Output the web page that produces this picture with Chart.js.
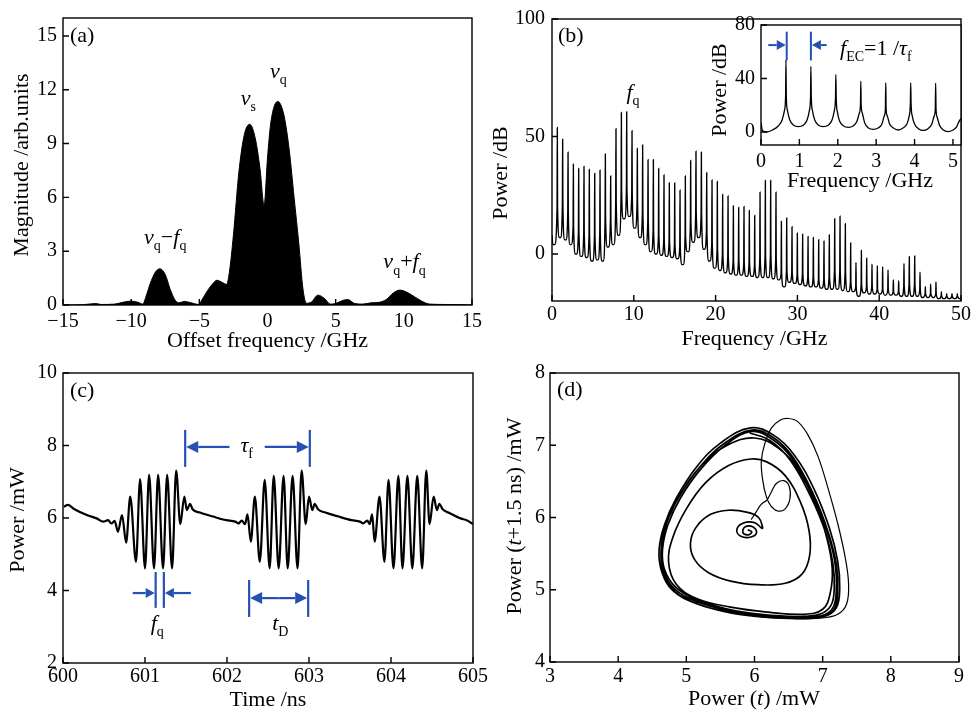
<!DOCTYPE html>
<html>
<head>
<meta charset="utf-8">
<script src="https://cdn.jsdelivr.net/npm/chart.js@4.4.1/dist/chart.umd.min.js"></script>
<style>
  body { margin: 0; background: #fff; }
  #wrap { position: relative; width: 973px; height: 714px; }
  canvas { position: absolute; left: 0; top: 0; }
</style>
</head>
<body>
<div id="wrap">
  <canvas id="cA" width="973" height="714"></canvas>
  <canvas id="cB" width="973" height="714"></canvas>
  <canvas id="cI" width="973" height="714"></canvas>
  <canvas id="cC" width="973" height="714"></canvas>
  <canvas id="cD" width="973" height="714"></canvas>
</div>
<script>
// ---------- data ----------

// (a) optical spectrum, offset frequency (GHz) / magnitude
var magPts = [[-15,0],[-13.5,0.02],[-12.6,0.08],[-12.2,0.03],[-11.2,0.05],[-10.6,0.15],[-10.0,0.22],[-9.5,0.15],
  [-9.15,0.05],[-8.9,0.5],[-8.6,1.2],[-8.25,1.8],[-7.9,2.02],[-7.5,1.7],[-7.15,0.9],[-6.8,0.3],[-6.5,0.12],
  [-6.1,0.2],[-5.6,0.12],[-5.05,0.03],[-4.8,0.3],[-4.4,0.8],[-4.0,1.2],[-3.7,1.38],[-3.3,1.25],[-3.0,1.15],
  [-2.8,1.8],[-2.5,3.9],[-2.1,7.4],[-1.7,9.5],[-1.3,10.07],[-0.9,9.3],[-0.55,7.6],[-0.25,5.55],[0.0,8.2],
  [0.25,10.2],[0.75,11.35],[1.2,10.6],[1.6,8.6],[1.95,6.0],[2.3,3.4],[2.6,0.9],[2.85,0.1],[3.2,0.15],
  [3.7,0.55],[4.2,0.35],[4.6,0.05],[5.0,0.08],[5.5,0.25],[5.9,0.3],[6.4,0.08],[7.0,0.05],[7.6,0.12],
  [8.2,0.15],[8.7,0.3],[9.2,0.65],[9.7,0.83],[10.2,0.72],[10.8,0.45],[11.4,0.18],[11.9,0.05],[13,0.03],
  [14.4,0.02],[15,0]];
var aTicksX = [-15, -10, -5, 0, 5, 10, 15];
var aTicksY = [0, 3, 6, 9, 12, 15];

// (b) RF spectrum: external-cavity comb lines (GHz), spike tops, pedestals, troughs (dB)
var combFreq = [0.65,1.30,1.96,2.61,3.26,3.91,4.56,5.22,5.87,6.52,7.17,7.82,8.48,9.13,9.78,10.43,11.08,11.74,
  12.39,13.04,13.69,14.34,15.00,15.65,16.30,16.95,17.60,18.26,18.91,19.56,20.21,20.86,21.52,22.17,22.82,23.47,
  24.12,24.78,25.43,26.08,26.73,27.38,28.04,28.69,29.34,29.99,30.64,31.30,31.95,32.60,33.25,33.90,34.56,35.21,
  35.86,36.51,37.16,37.82,38.47,39.12,39.77,40.42,41.08,41.73,42.38,43.03,43.68,44.34,44.99,45.64,46.29,46.94,
  47.60,48.25,48.90,49.55];
var combPeak = [53.8,48.8,43.3,38.2,36.4,37.3,36,34.3,35.7,42.6,33.2,53.3,60.2,60.5,52.5,44.9,46.4,40.1,
  40.1,36.4,33.6,30.2,30.2,27.1,33.2,39.8,43.7,43.3,34.6,31.5,30.9,25.3,24.7,20.5,19.8,20.2,
  18.5,16.4,26.3,31.3,31.3,26.3,13.9,15.3,11.6,8.8,8.4,7.4,7.0,6.1,5.5,8.1,15.0,16.1,
  12.9,4.7,-3.6,1.5,-1.8,-4.3,-5.0,-5.4,-6.8,-10.9,-11.4,-4.0,-1.2,-0.8,-7.7,-13.9,-12.8,-11.9,
  -16,-16.9,-16.9,-16.9];
var combPed = [20,21,18,12,10,9,8,8,9,16,14,22,27,28,26,22,18,14,
  10,8,6,5,4,3,8,14,18,17,10,5,2,0,-1,-3,-3,-4,
  -4,-5,-2,0,0,-2,-8,-7,-8,-9,-9,-10,-10,-11,-11,-10,-7,-7,
  -8,-12,-14,-13,-14,-14,-15,-15,-15,-16,-16,-14,-13,-13,-15,-17,-17,-17,
  -18,-18,-18,-18];
var combTrough = [4,7,6,4,0,-1,-1.5,-3,-2.5,-3,3,4,8,15,16,11,7,4,1,0,-0.5,-1,-1.5,-2,-4.5,1,5,7,2,-3,-6,
  -7,-8,-8.5,-9,-9,-9.5,-9.5,-10,-10,-10,-10.5,-11,-14,-12,-12.5,-13,-13.5,-14,-14,-14.5,-15,-15,-15,
  -15.5,-16,-16,-18,-16.5,-17,-17,-17,-17.5,-17.5,-17.5,-18,-18,-18,-18,-18.5,-18.5,-18.5,-19,-19,-19,
  -19,-19];
var bTicksX = [0, 10, 20, 30, 40, 50];
var bTicksY = [0, 50, 100];

// (b) inset, 0-5.2 GHz
var insetPts = [[0,7],[0.04,1],[0.15,0],[0.30,1.5],[0.45,4.5],[0.55,9],[0.61,16],[0.64,26],[0.65,54],[0.66,26],
  [0.69,16],[0.75,9],[0.85,5],[0.975,4],[1.10,5],[1.20,9],[1.26,16],[1.29,26],[1.30,49],[1.31,26],[1.34,16],
  [1.40,9],[1.50,5],[1.625,4],[1.75,5],[1.85,9],[1.91,16],[1.94,25],[1.95,43],[1.96,25],[1.99,15],[2.05,8],
  [2.15,4.5],[2.275,3.5],[2.40,4.5],[2.50,8],[2.56,14],[2.59,20],[2.60,38],[2.61,20],[2.64,14],[2.70,7],
  [2.80,3],[2.925,2],[3.05,3],[3.15,6],[3.21,12],[3.24,17],[3.25,37],[3.26,17],[3.29,12],[3.35,6],[3.45,3],
  [3.575,1.5],[3.70,3],[3.80,6],[3.86,12],[3.89,21],[3.90,37],[3.91,21],[3.94,12],[4.00,6],[4.10,2.5],
  [4.225,1.2],[4.35,2.5],[4.45,6],[4.51,12],[4.54,17],[4.55,36.5],[4.56,17],[4.59,11],[4.65,5],[4.75,1.5],
  [4.875,0.3],[5.00,1.5],[5.10,4],[5.16,8],[5.21,10]];
var iTicksX = [0, 1, 2, 3, 4, 5];
var iTicksY = [0, 40, 80];

// (c) time series, ns / mW
var powerPts = [[600.01,6.31],[600.06,6.36],[600.14,6.24],[600.29,6.08],[600.41,5.99],[600.49,5.90],[600.55,5.94],
  [600.59,5.85],[600.63,5.92],[600.67,5.62],[600.72,6.08],[600.77,5.32],[600.82,6.59],[600.89,4.79],[600.94,7.07],
  [601.00,4.61],[601.05,7.19],[601.11,4.61],[601.16,7.19],[601.22,4.61],[601.27,7.19],[601.33,4.61],[601.38,7.31],
  [601.43,5.83],[601.48,6.59],[601.51,6.22],[601.55,6.39],[601.58,6.24],[601.67,6.15],[601.83,6.04],[601.99,5.94],
  [602.10,5.90],[602.14,5.85],[602.18,5.93],[602.22,5.83],[602.25,6.10],[602.29,5.35],[602.34,6.59],[602.40,4.79],
  [602.46,7.05],[602.52,4.61],[602.57,7.16],[602.63,4.61],[602.69,7.16],[602.74,4.61],[602.80,7.16],[602.86,4.61],
  [602.91,7.31],[602.96,5.83],[603.00,6.59],[603.04,6.22],[603.07,6.39],[603.11,6.24],[603.20,6.15],[603.36,6.04],
  [603.52,5.94],[603.62,5.90],[603.66,5.85],[603.71,5.93],[603.74,5.83],[603.77,6.10],[603.80,5.35],[603.86,6.59],
  [603.92,4.79],[603.97,7.05],[604.03,4.61],[604.09,7.16],[604.14,4.61],[604.20,7.16],[604.26,4.61],[604.32,7.16],
  [604.38,4.61],[604.43,7.31],[604.47,5.83],[604.52,6.59],[604.56,6.22],[604.59,6.39],[604.63,6.24],[604.72,6.13],
  [604.85,5.99],[604.93,5.93],[605.0,5.83]];
var cTicksX = [600, 601, 602, 603, 604, 605];
var cTicksY = [2, 4, 6, 8, 10];

// (d) phase portrait P(t) / P(t+1.5 ns), mW
var spiralPts = [[5.90,5.83],[5.96,5.80],[5.91,5.76],[5.83,5.79],[5.86,5.87],[5.98,5.87],[6.03,5.79],[5.95,5.73],
  [5.80,5.74],[5.74,5.83],[5.83,5.92],[6.00,5.93],[6.11,5.85],[6.12,5.86],[6.06,6.00],[5.90,6.07],[5.62,6.10],
  [5.35,6.04],[5.14,5.86],[5.06,5.64],[5.12,5.42],[5.32,5.24],[5.65,5.12],[6.05,5.07],[6.45,5.09],[6.70,5.22],
  [6.81,5.48],[6.80,5.82],[6.68,6.20],[6.45,6.58],[6.18,6.77],[5.95,6.81],[5.62,6.72],[5.28,6.48],[5.00,6.12],
  [4.80,5.72],[4.74,5.38],[4.85,5.08],[5.15,4.88],[5.65,4.76],[6.20,4.69],[6.72,4.66],[7.00,4.73],[7.11,4.95],
  [7.14,5.30],[7.06,5.72],[6.90,6.18],[6.65,6.65],[6.35,6.96],[6.00,7.10],[5.60,7.00],[5.22,6.72],[4.90,6.30],
  [4.70,5.90],[4.63,5.55],[4.67,5.22],[4.85,4.96],[5.18,4.80],[5.65,4.68],[6.15,4.62],[6.65,4.60],[7.02,4.63],
  [7.20,4.75],[7.25,5.02],[7.22,5.40],[7.10,5.85],[6.88,6.38],[6.58,6.87],[6.28,7.14],[5.94,7.24],[5.50,7.03],
  [5.15,6.70],[4.86,6.28],[4.68,5.90],[4.60,5.55],[4.64,5.25],[4.80,4.99],[5.14,4.81],[5.62,4.69],[6.12,4.63],
  [6.62,4.61],[7.00,4.63],[7.17,4.73],[7.22,4.98],[7.20,5.35],[7.08,5.80],[6.86,6.33],[6.56,6.84],[6.27,7.11],
  [5.96,7.21],[5.55,7.02],[5.20,6.70],[4.90,6.30],[4.71,5.92],[4.63,5.56],[4.66,5.27],[4.82,5.02],[5.14,4.84],
  [5.62,4.71],[6.12,4.64],[6.62,4.62],[6.98,4.64],[7.15,4.75],[7.20,5.00],[7.18,5.38],[7.06,5.82],[6.84,6.32],
  [6.55,6.82],[6.25,7.09],[5.95,7.19],[5.57,7.00],[5.22,6.68],[4.92,6.28],[4.73,5.90],[4.65,5.55],[4.68,5.28],
  [4.84,5.04],[5.15,4.86],[5.62,4.73],[6.10,4.66],[6.60,4.63],[6.95,4.66],[7.12,4.78],[7.17,5.02],[7.15,5.36],
  [7.04,5.80],[6.82,6.30],[6.52,6.80],[6.22,7.07],[5.93,7.17]];
var excursionPts = [[5.95,5.97],[6.02,6.07],[6.08,6.16],[6.12,6.20],[6.18,6.24],[6.24,6.34],[6.32,6.47],[6.43,6.51],
  [6.51,6.43],[6.52,6.26],[6.45,6.12],[6.34,6.09],[6.24,6.16],[6.17,6.30],[6.12,6.52],[6.10,6.78],[6.15,7.02],
  [6.25,7.24],[6.38,7.35],[6.50,7.37],[6.63,7.33],[6.78,7.15],[6.93,6.85],[7.08,6.40],[7.22,5.92],[7.33,5.45],
  [7.38,5.08],[7.35,4.80],[7.22,4.66],[7.00,4.61],[6.60,4.60]];
var dTicksX = [3, 4, 5, 6, 7, 8, 9];
var dTicksY = [4, 5, 6, 7, 8];

// ---------- helpers ----------
var FONT = '"Liberation Serif", "Times New Roman", serif';
var BLUE = '#2651b3';

function xy(pts) {
  return pts.map(function (p) { return { x: p[0], y: p[1] }; });
}

// draws mixed text: parts = [[text, 'i' | 's' | 'si' | '']]
function rich(ctx, parts, x, y, size, align, rot, base) {
  ctx.save();
  ctx.translate(x, y);
  if (rot) ctx.rotate(rot);
  var segs = [], w = 0;
  parts.forEach(function (p) {
    var st = p[1] || '';
    var sub = st.indexOf('s') >= 0, it = st.indexOf('i') >= 0;
    var sz = sub ? Math.round(size * 0.62) : size;
    var f = (it ? 'italic ' : '') + sz + 'px ' + FONT;
    ctx.font = f;
    var m = ctx.measureText(p[0]).width;
    segs.push({ t: p[0], f: f, w: m, dy: sub ? size * 0.28 : 0 });
    w += m;
  });
  var cx = align === 'left' ? 0 : -w / 2;
  ctx.textAlign = 'left';
  ctx.textBaseline = base || 'middle';
  segs.forEach(function (s) {
    ctx.font = s.f;
    ctx.fillText(s.t, cx, s.dy);
    cx += s.w;
  });
  ctx.restore();
}

function arrow(ctx, x1, x2, y, hl, hw) {
  var d = x2 > x1 ? 1 : -1;
  ctx.beginPath();
  ctx.moveTo(x1, y);
  ctx.lineTo(x2 - d * hl, y);
  ctx.stroke();
  ctx.beginPath();
  ctx.moveTo(x2, y);
  ctx.lineTo(x2 - d * hl, y - hw);
  ctx.lineTo(x2 - d * hl, y + hw);
  ctx.closePath();
  ctx.fill();
}

function vbar(ctx, x, y1, y2) {
  ctx.beginPath();
  ctx.moveTo(x, y1);
  ctx.lineTo(x, y2);
  ctx.stroke();
}

function fmt(v) {
  return v < 0 ? '\u2212' + Math.abs(v) : String(v);
}

// frame, inward ticks and per-panel annotations
function deco(draw, white) {
  return {
    id: 'deco',
    beforeDatasetsDraw: function (chart) {
      if (!white) return;
      var a = chart.chartArea, ctx = chart.ctx;
      ctx.save();
      ctx.fillStyle = '#fff';
      ctx.fillRect(a.left, a.top, a.right - a.left, a.bottom - a.top);
      ctx.restore();
    },
    afterDatasetsDraw: function (chart) {
      var ctx = chart.ctx, a = chart.chartArea, sx = chart.scales.x, sy = chart.scales.y;
      ctx.save();
      ctx.strokeStyle = '#000';
      ctx.lineWidth = 1.4;
      ctx.strokeRect(a.left, a.top, a.right - a.left, a.bottom - a.top);
      ctx.beginPath();
      sx.ticks.forEach(function (t) {
        var p = sx.getPixelForValue(t.value);
        ctx.moveTo(p, a.bottom); ctx.lineTo(p, a.bottom - 6);
      });
      sy.ticks.forEach(function (t) {
        var p = sy.getPixelForValue(t.value);
        ctx.moveTo(a.left, p); ctx.lineTo(a.left + 6, p);
      });
      ctx.stroke();
      ctx.fillStyle = '#000';
      draw(ctx, a,
        function (v) { return sx.getPixelForValue(v); },
        function (v) { return sy.getPixelForValue(v); });
      ctx.restore();
    }
  };
}

function opts(box, xr, yr, xt, yt, pad) {
  var W = 60, H = 40;
  return {
    responsive: false,
    animation: false,
    events: [],
    layout: { padding: { left: box[0] - W, top: box[1], right: 973 - box[2], bottom: 714 - box[3] - H } },
    plugins: { legend: { display: false }, tooltip: { enabled: false } },
    elements: { point: { radius: 0 } },
    scales: {
      x: {
        type: 'linear', min: xr[0], max: xr[1],
        grid: { display: false, drawTicks: false }, border: { display: false },
        afterFit: function (s) { s.height = H; },
        afterBuildTicks: function (s) { s.ticks = xt.map(function (v) { return { value: v }; }); },
        ticks: { font: { family: FONT, size: 20 }, color: '#000', padding: pad[0], maxRotation: 0, autoSkip: false, callback: fmt }
      },
      y: {
        type: 'linear', min: yr[0], max: yr[1],
        grid: { display: false, drawTicks: false }, border: { display: false },
        afterFit: function (s) { s.width = W; },
        afterBuildTicks: function (s) { s.ticks = yt.map(function (v) { return { value: v }; }); },
        ticks: { font: { family: FONT, size: 20 }, color: '#000', padding: pad[1], autoSkip: false, callback: fmt }
      }
    }
  };
}

var UP = -Math.PI / 2;

// ---------- (a) ----------
new Chart(document.getElementById('cA'), {
  type: 'line',
  data: { datasets: [{ data: xy(magPts), borderColor: '#000', backgroundColor: '#000', borderWidth: 1,
    fill: 'origin', cubicInterpolationMode: 'monotone' }] },
  options: opts([63, 15, 472, 305], [-15, 15], [0, 16], aTicksX, aTicksY, [5, 6]),
  plugins: [deco(function (ctx, a, X, Y) {
    rich(ctx, [['(a)', '']], a.left + 7, a.top + 24, 22, 'left', 0, 'alphabetic');
    rich(ctx, [['\u03bd', 'i'], ['q', 's'], ['\u2212', ''], ['f', 'i'], ['q', 's']], X(-7.5), Y(3.42), 22, 'center', 0, 'alphabetic');
    rich(ctx, [['\u03bd', 'i'], ['s', 's']], X(-1.4), Y(11.15), 22, 'center', 0, 'alphabetic');
    rich(ctx, [['\u03bd', 'i'], ['q', 's']], X(0.8), Y(12.65), 22, 'center', 0, 'alphabetic');
    rich(ctx, [['\u03bd', 'i'], ['q', 's'], ['+', ''], ['f', 'i'], ['q', 's']], X(10.05), Y(2.04), 22, 'center', 0, 'alphabetic');
    rich(ctx, [['Offset frequency /GHz', '']], (a.left + a.right) / 2, a.bottom + 36, 22, 'center');
    rich(ctx, [['Magnitude /arb.units', '']], a.left - 41, 165, 22, 'center', UP);
  })]
});

// ---------- (b) ----------
// each comb line: pedestal + narrow spike, U-shaped trough between neighbouring lines
var bPts = [{ x: 0, y: 8 }, { x: 0.1, y: combTrough[0] }];
for (var i = 0; i < combFreq.length; i++) {
  var f = combFreq[i];
  var next = i + 1 < combFreq.length ? combFreq[i + 1] : 50.2;
  var mid = (f + next) / 2;
  if (i === 0) bPts.push({ x: f / 2, y: combTrough[0] });
  bPts.push({ x: f - 0.03, y: combPed[i] }, { x: f, y: combPeak[i] }, { x: f + 0.03, y: combPed[i] });
  bPts.push({ x: mid - 0.07, y: combTrough[i + 1] }, { x: mid + 0.07, y: combTrough[i + 1] });
}

new Chart(document.getElementById('cB'), {
  type: 'line',
  data: { datasets: [{ data: bPts, borderColor: '#000', borderWidth: 1.4, fill: false, cubicInterpolationMode: 'monotone' }] },
  options: opts([552, 12, 961, 301], [0, 50], [-20, 100], bTicksX, bTicksY, [2, 7]),
  plugins: [deco(function (ctx, a, X, Y) {
    rich(ctx, [['(b)', '']], a.left + 6, a.top + 23, 22, 'left', 0, 'alphabetic');
    rich(ctx, [['f', 'i'], ['q', 's']], X(9.9), Y(66), 22, 'center', 0, 'alphabetic');
    rich(ctx, [['Frequency /GHz', '']], (a.left + a.right) / 2 - 2, a.bottom + 38, 22, 'center');
    rich(ctx, [['Power /dB', '']], a.left - 51, 173, 22, 'center', UP);
  })]
});

// ---------- (b) inset ----------
new Chart(document.getElementById('cI'), {
  type: 'line',
  data: { datasets: [{ data: xy(insetPts), borderColor: '#000', borderWidth: 1.3, fill: false, cubicInterpolationMode: 'monotone' }] },
  options: opts([761, 25, 961, 145], [0, 5.21], [-9.7, 80], iTicksX, iTicksY, [5, 6]),
  plugins: [deco(function (ctx, a, X, Y) {
    ctx.strokeStyle = BLUE; ctx.fillStyle = BLUE; ctx.lineWidth = 2;
    vbar(ctx, X(0.67), Y(75), Y(53.5));
    vbar(ctx, X(1.30), Y(75), Y(53.5));
    arrow(ctx, X(0.19), X(0.67) - 1, Y(65), 9, 5);
    arrow(ctx, X(1.71), X(1.30) + 1, Y(65), 9, 5);
    ctx.fillStyle = '#000';
    rich(ctx, [['f', 'i'], ['EC', 's'], ['=1 /', ''], ['\u03c4', 'i'], ['f', 's']], X(2.06), Y(57.6), 22, 'left', 0, 'alphabetic');
    rich(ctx, [['Frequency /GHz', '']], 860, a.bottom + 36, 22, 'center');
    rich(ctx, [['Power /dB', '']], a.left - 41, 90, 22, 'center', UP);
  }, true)]
});

// ---------- (c) ----------
new Chart(document.getElementById('cC'), {
  type: 'line',
  data: { datasets: [{ data: xy(powerPts), borderColor: '#000', borderWidth: 2.2, fill: false, cubicInterpolationMode: 'monotone' }] },
  options: opts([63, 373, 473, 663], [600, 605], [2, 10], cTicksX, cTicksY, [2, 6]),
  plugins: [deco(function (ctx, a, X, Y) {
    rich(ctx, [['(c)', '']], a.left + 7, a.top + 24, 22, 'left', 0, 'alphabetic');
    ctx.strokeStyle = BLUE; ctx.fillStyle = BLUE; ctx.lineWidth = 2.2;
    // tau_f
    vbar(ctx, X(601.49), Y(8.43), Y(7.41));
    vbar(ctx, X(603.01), Y(8.43), Y(7.41));
    arrow(ctx, X(602.03), X(601.49) + 1, Y(7.96), 12, 6);
    arrow(ctx, X(602.46), X(603.01) - 1, Y(7.96), 12, 6);
    // f_q
    vbar(ctx, X(601.13), Y(4.51), Y(3.52));
    vbar(ctx, X(601.23), Y(4.51), Y(3.52));
    arrow(ctx, X(600.85), X(601.13) - 1, Y(3.93), 9, 5);
    arrow(ctx, X(601.56), X(601.23) + 1, Y(3.93), 9, 5);
    // t_D
    vbar(ctx, X(602.27), Y(4.29), Y(3.27));
    vbar(ctx, X(602.99), Y(4.29), Y(3.27));
    arrow(ctx, X(602.63), X(602.27) + 1, Y(3.79), 12, 6);
    arrow(ctx, X(602.63), X(602.99) - 1, Y(3.79), 12, 6);
    ctx.fillStyle = '#000';
    rich(ctx, [['\u03c4', 'i'], ['f', 's']], X(602.24), Y(7.83), 22, 'center', 0, 'alphabetic');
    rich(ctx, [['f', 'i'], ['q', 's']], X(601.15), Y(2.91), 22, 'center', 0, 'alphabetic');
    rich(ctx, [['t', 'i'], ['D', 's']], X(602.65), Y(2.91), 22, 'center', 0, 'alphabetic');
    rich(ctx, [['Time /ns', '']], 268, a.bottom + 37, 22, 'center');
    rich(ctx, [['Power /mW', '']], a.left - 45, 520, 22, 'center', UP);
  })]
});

// ---------- (d) ----------
new Chart(document.getElementById('cD'), {
  type: 'line',
  data: { datasets: [
    { data: xy(spiralPts), borderColor: '#000', borderWidth: 1.7, fill: false, tension: 0.4 },
    { data: xy(excursionPts), borderColor: '#000', borderWidth: 1.2, fill: false, tension: 0.4 }
  ] },
  options: opts([550, 373, 959, 662], [3, 9], [4, 8], dTicksX, dTicksY, [3, 5]),
  plugins: [deco(function (ctx, a, X, Y) {
    rich(ctx, [['(d)', '']], a.left + 7, a.top + 23, 22, 'left', 0, 'alphabetic');
    rich(ctx, [['Power (', ''], ['t', 'i'], [') /mW', '']], 754, a.bottom + 37, 22, 'center');
    rich(ctx, [['Power (', ''], ['t', 'i'], ['+1.5 ns) /mW', '']], a.left - 35, 516, 22, 'center', UP);
  })]
});
</script>
</body>
</html>
